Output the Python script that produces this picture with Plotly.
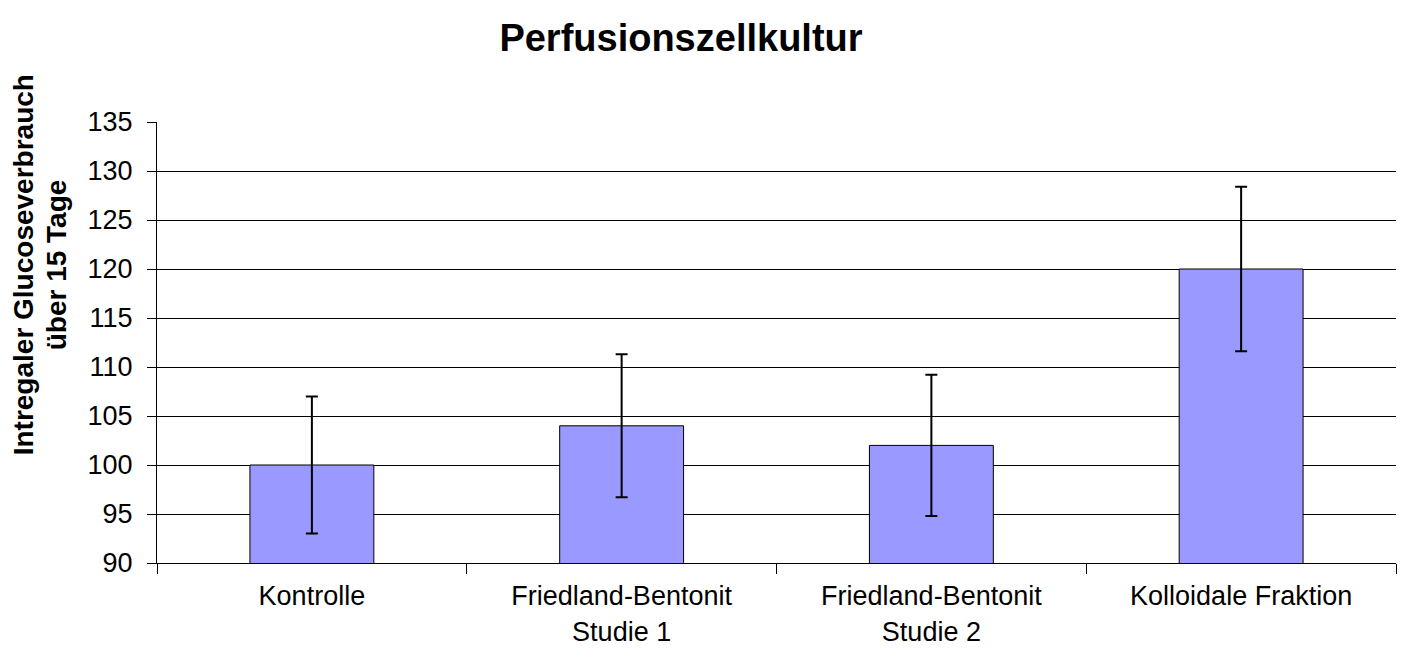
import plotly.graph_objects as go

categories = ["Kontrolle", "Friedland-Bentonit<br>Studie 1",
              "Friedland-Bentonit<br>Studie 2", "Kolloidale Fraktion"]
values = [100, 104, 102, 120]
errors = [7.0, 7.3, 7.2, 8.4]
y_ticks = [90, 95, 100, 105, 110, 115, 120, 125, 130, 135]
y_title = ["Intregaler Glucoseverbrauch", "über 15 Tage"]

font = "Liberation Sans, Arial, sans-serif"

# page body has an 8px margin, so the figure is a bit smaller than the window
W, H = 1400, 662
ml, mr, mt, mb = 149, 12, 114, 107
plot_w = W - ml - mr

fig = go.Figure()
fig.add_trace(go.Bar(
    x=categories,
    y=values,
    width=0.4,
    marker=dict(color="#9999FF", line=dict(color="black", width=1)),
    error_y=dict(type="data", array=errors, visible=True,
                 color="black", thickness=2, width=6),
))

# y-axis title as two rotated lines
for txt, px in zip(y_title, [15, 48]):
    fig.add_annotation(
        text="<b>%s</b>" % txt, textangle=-90,
        xref="paper", yref="paper",
        x=(px - ml) / plot_w, y=0.675,
        xanchor="center", yanchor="middle", showarrow=False,
        font=dict(family=font, size=28, color="black"),
    )

fig.update_layout(
    width=W, height=H,
    paper_bgcolor="white", plot_bgcolor="white",
    margin=dict(l=ml, r=mr, t=mt, b=mb),
    showlegend=False,
    title=dict(text="<b>Perfusionszellkultur</b>", x=0.4807, xanchor="center",
               y=0.955, yanchor="middle",
               font=dict(family=font, size=38, color="black")),
    font=dict(family=font, color="black"),
)
fig.update_xaxes(
    type="category", tickson="boundaries", ticks="outside", ticklen=10,
    tickcolor="black", showline=True, linecolor="black", linewidth=1,
    showgrid=False, ticklabelstandoff=9,
    tickfont=dict(size=27, family=font, color="black"),
)
fig.update_yaxes(
    range=[90, 135], tickvals=y_ticks, ticktext=[str(t) for t in y_ticks],
    ticks="outside", ticklen=9, tickcolor="black",
    showline=True, linecolor="black", linewidth=1,
    showgrid=True, gridcolor="black", gridwidth=1, zeroline=False,
    ticklabelstandoff=9,
    tickfont=dict(size=27, family=font, color="black"),
)

fig.write_html("out.html")
